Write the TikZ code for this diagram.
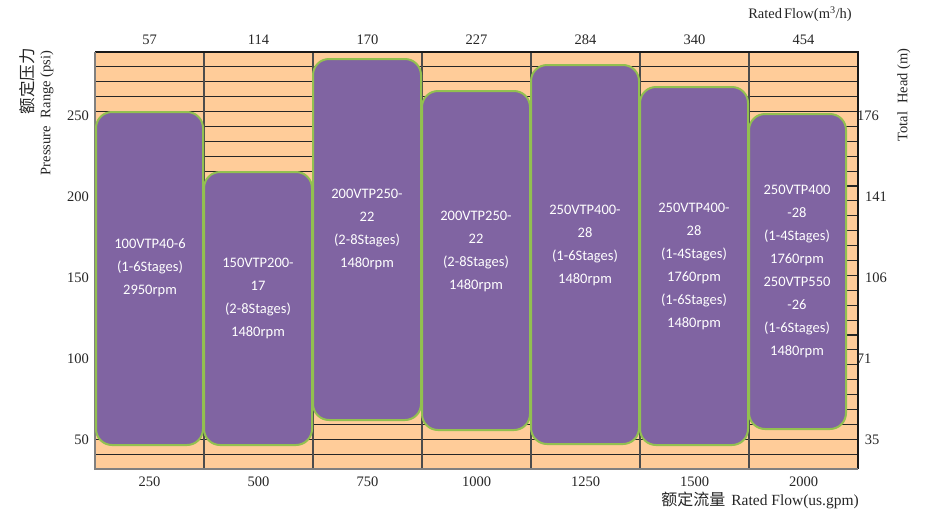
\documentclass[tikz,border=0pt]{standalone}
\usepackage{fontspec}
\setmainfont{Liberation Serif}
\newfontfamily\boxfont{Carlito}
\newfontfamily\cjkfont{Noto Sans CJK SC}
\definecolor{peach}{RGB}{255,204,153}
\definecolor{pumpviolet}{RGB}{128,100,162}
\definecolor{pumpgreen}{RGB}{146,192,80}
\begin{document}
\begin{tikzpicture}[x=1pt,y=-1pt,
  pbox/.style={draw=pumpgreen, line width=2pt, fill=pumpviolet, rounded corners=16pt, inner sep=0pt},
  ptext/.style={text=white, align=center, font=\boxfont\fontsize{14.5}{23}\selectfont, inner sep=0pt},
  axlab/.style={font=\fontsize{14.5}{16}\selectfont, inner sep=0pt, text=black!85},
  gridline/.style={draw=black!85, line width=1.1pt},
  colline/.style={draw=black!70, line width=1.2pt}]
\useasboundingbox (0,0) rectangle (926,512);
% plot area
\fill[peach] (95,52) rectangle (858,469);
\foreach \k in {1,...,27} \draw[gridline] (95,{52+\k*417/28}) -- (858,{52+\k*417/28});
\foreach \x in {204,313,422,531,640,749} \draw[colline] (\x,52) -- (\x,469);
\draw[black!90, line width=1.2pt] (95,52) -- (858,52) -- (858,469);
\draw[black!50, line width=1.6pt] (95,52) -- (95,469) -- (858,469);
% boxes
\node[pbox, minimum width=107pt, minimum height=333pt] (b1) at (149.5,278.5) {};
\node[pbox, minimum width=108pt, minimum height=273pt] (b2) at (258,308.5) {};
\node[pbox, minimum width=108pt, minimum height=361pt] (b3) at (367,239.5) {};
\node[pbox, minimum width=108pt, minimum height=339pt] (b4) at (476,260.5) {};
\node[pbox, minimum width=108pt, minimum height=379pt] (b5) at (585,254.5) {};
\node[pbox, minimum width=108pt, minimum height=358pt] (b6) at (694,266) {};
\node[pbox, minimum width=97pt, minimum height=315pt] (b7) at (797.5,271.5) {};
% box texts
\node[ptext] (t1) at (150,268) {100VTP40-6\\(1-6Stages)\\2950rpm};
\node[ptext] (t2) at (258,298) {150VTP200-\\17\\(2-8Stages)\\1480rpm};
\node[ptext] (t3) at (367,229) {200VTP250-\\22\\(2-8Stages)\\1480rpm};
\node[ptext] (t4) at (476,251) {200VTP250-\\22\\(2-8Stages)\\1480rpm};
\node[ptext] (t5) at (585,245) {250VTP400-\\28\\(1-6Stages)\\1480rpm};
\node[ptext] (t6) at (694,266) {250VTP400-\\28\\(1-4Stages)\\1760rpm\\(1-6Stages)\\1480rpm};
\node[ptext] (t7) at (797,271) {250VTP400\\-28\\(1-4Stages)\\1760rpm\\250VTP550\\-26\\(1-6Stages)\\1480rpm};
% top axis
\node[axlab] (top1) at (149.5,40) {57};
\node[axlab] (top2) at (258.5,40) {114};
\node[axlab] (top3) at (367.5,40) {170};
\node[axlab] (top4) at (476.5,40) {227};
\node[axlab] (top5) at (585.5,40) {284};
\node[axlab] (top6) at (694.5,40) {340};
\node[axlab] (top7) at (803.5,40) {454};
\node[axlab] (toptitle) at (800,14) {Rated\hspace{2pt}Flow(m\textsuperscript{3}/h)};
% bottom axis
\node[axlab] (bot1) at (149.5,482) {250};
\node[axlab] (bot2) at (258.5,482) {500};
\node[axlab] (bot3) at (367.5,482) {750};
\node[axlab] (bot4) at (476.5,482) {1000};
\node[axlab] (bot5) at (585.5,482) {1250};
\node[axlab] (bot6) at (694.5,482) {1500};
\node[axlab] (bot7) at (803.5,482) {2000};
\node[axlab, anchor=east, font=\fontsize{15.5}{17}\selectfont] (bottitle) at (859,500) {{\cjkfont\fontsize{16}{18}\selectfont 额定流量}\hspace{6pt}Rated Flow(us.gpm)};
% left axis
\node[axlab, anchor=east] (l250) at (89,116) {250};
\node[axlab, anchor=east] (l200) at (89,197) {200};
\node[axlab, anchor=east] (l150) at (89,278) {150};
\node[axlab, anchor=east] (l100) at (89,359) {100};
\node[axlab, anchor=east] (l50) at (89,440) {50};
\node[axlab, rotate=90] (lcjk) at (27,81) {\cjkfont\fontsize{16.5}{18}\selectfont 额定压力};
\node[axlab, rotate=90] (ltitle) at (47,113) {Pressure\hspace{8pt}Range (psi)};
% right axis
\node[axlab] (r176) at (868,116) {176};
\node[axlab] (r141) at (876,197) {141};
\node[axlab] (r106) at (876,278) {106};
\node[axlab] (r71) at (864,359) {71};
\node[axlab] (r35) at (872,440) {35};
\node[axlab, rotate=90] (rtitle) at (904,95) {Total\hspace{8pt}Head (m)};
\end{tikzpicture}
\end{document}
